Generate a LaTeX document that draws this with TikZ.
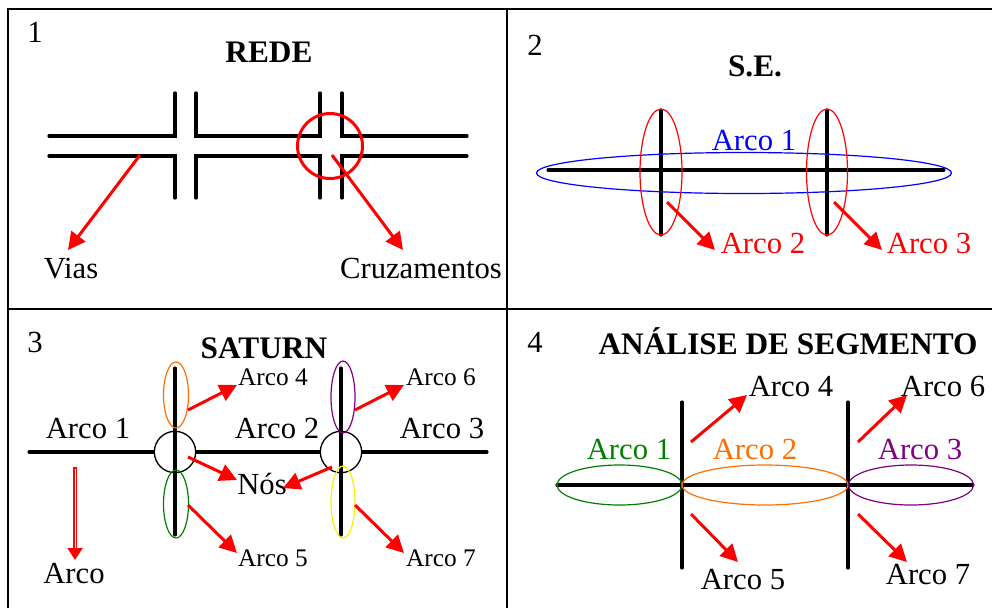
\documentclass[tikz,border=0pt]{standalone}
\usepackage{fontspec}
\setmainfont{Liberation Serif}
\usetikzlibrary{arrows.meta}
\definecolor{orng}{RGB}{255,110,0}
\definecolor{purp}{RGB}{128,0,128}
\definecolor{grn}{RGB}{0,128,0}
\definecolor{ylw}{RGB}{255,240,0}
\begin{document}
\begin{tikzpicture}[x=0.75pt,y=-0.75pt,
  lbl/.style={font=\fontsize{23}{27}\selectfont, anchor=base, inner sep=0pt},
  sml/.style={font=\fontsize{19}{23}\selectfont, anchor=base, inner sep=0pt},
  ttl/.style={font=\fontsize{23.5}{27}\selectfont\bfseries, anchor=base, inner sep=0pt},
  frame/.style={line width=1.5pt},
  road/.style={line width=2.5pt, line cap=round},
  bar/.style={line width=2.3pt, line cap=round},
  thin/.style={line width=0.9pt},
  ptr/.style={red, line width=2.25pt, -{Triangle[length=13pt,width=13pt]}},
  nodecirc/.style={circle, draw=black, fill=white, line width=1pt, minimum size=31pt, inner sep=0pt}
]
\useasboundingbox (0,0) rectangle (992,608);
% frame
\draw[frame] (8,608) -- (8,9) -- (992,9);
\draw[frame] (507,9) -- (507,608);
\draw[frame] (8,309) -- (992,309);

% ---------- Panel 1 ----------
\node[lbl] (n1) at (35,42) {1};
\node[ttl] (t1) at (269,62) {REDE};
\draw[road] (49,136) -- (175,136) -- (175,93);
\draw[road] (49,156) -- (175,156) -- (175,198);
\draw[road] (196,93) -- (196,136) -- (320,136) -- (320,93);
\draw[road] (196,198) -- (196,156) -- (320,156) -- (320,198);
\draw[road] (342,93) -- (342,136) -- (467,136);
\draw[road] (342,198) -- (342,156) -- (467,156);
\draw[red, line width=2.25pt] (330,146) circle[radius=32.5];
\node[lbl] (vias) at (71,278) {Vias};
\node[lbl] (cruz) at (421,278) {Cruzamentos};
\coordinate (v0) at (140,155);
\coordinate (v1) at (68,250);
\coordinate (c0) at (332,155);
\coordinate (c1) at (403,250);
\draw[ptr] (v0) -- (v1);
\draw[ptr] (c0) -- (c1);

% ---------- Panel 2 ----------
\node[lbl] (n2) at (535,55) {2};
\node[ttl] (t2) at (755,76) {S.E.};
\draw[bar] (548,170) -- (944,170);
\draw[bar] (661,110) -- (661,235);
\draw[bar] (827,110) -- (827,235);
\draw[blue, thin] (744,173) ellipse[x radius=207.5, y radius=20.5];
\draw[red, thin] (661,172) ellipse[x radius=21, y radius=63];
\draw[red, thin] (827,172) ellipse[x radius=20.5, y radius=63];
\node[lbl, text=blue] (p2a1) at (754,150) {Arco 1};
\node[lbl, text=red] (p2a2) at (763,253) {Arco 2};
\node[lbl, text=red] (p2a3) at (929,253) {Arco 3};
\coordinate (s20) at (667,202);
\coordinate (s21) at (715,250);
\coordinate (s30) at (834,202);
\coordinate (s31) at (882,250);
\draw[ptr] (s20) -- (s21);
\draw[ptr] (s30) -- (s31);

% ---------- Panel 3 ----------
\node[lbl] (n3) at (35,352) {3};
\node[ttl] (t3) at (264,358) {SATURN};
\draw[bar] (29,452) -- (487,452);
\node[nodecirc] (ca) at (175,452) {};
\node[nodecirc] (cb) at (341,452) {};
\draw[bar] (175,368) -- (175,535);
\draw[bar] (341,368) -- (341,535);
\draw[orng, thin] (176,395) ellipse[x radius=12.5, y radius=33];
\draw[purp, thin] (343,397) ellipse[x radius=12, y radius=36];
\draw[grn, thin] (176,504) ellipse[x radius=12.5, y radius=34];
\draw[ylw, thin] (343,502) ellipse[x radius=12, y radius=36];
\node[lbl] (p3a1) at (88,438) {Arco 1};
\node[lbl] (p3a2) at (277,438) {Arco 2};
\node[lbl] (p3a3) at (442,438) {Arco 3};
\node[sml] (p3a4) at (273,385) {Arco 4};
\node[sml] (p3a6) at (441,385) {Arco 6};
\node[sml] (p3a5) at (273,566) {Arco 5};
\node[sml] (p3a7) at (441,566) {Arco 7};
\node[lbl] (nos) at (262,494) {Nós};
\node[lbl] (arco) at (74,583) {Arco};
\coordinate (q40) at (188,410);
\coordinate (q41) at (237,385);
\coordinate (q60) at (355,410);
\coordinate (q61) at (404,385);
\coordinate (qn0) at (188,457);
\coordinate (qn1) at (237,480);
\coordinate (qm0) at (332,467);
\coordinate (qm1) at (283,488);
\coordinate (q50) at (188,505);
\coordinate (q51) at (237,553);
\coordinate (q70) at (355,505);
\coordinate (q71) at (404,553);
\draw[ptr] (q40) -- (q41);
\draw[ptr] (q60) -- (q61);
\draw[ptr] (qn0) -- (qn1);
\draw[ptr] (qm0) -- (qm1);
\draw[ptr] (q50) -- (q51);
\draw[ptr] (q70) -- (q71);
\coordinate (d0) at (75,467);
\coordinate (d1) at (75,560);
\draw[red, line width=3.2pt, -{Triangle[length=9pt,width=11pt]}] (d0) -- (d1);
\draw[white, line width=0.6pt] (75,469) -- (75,548);

% ---------- Panel 4 ----------
\node[lbl] (n4) at (535,352) {4};
\node[ttl] (t4) at (788,354) {ANÁLISE DE SEGMENTO};
\draw[bar] (557,485) -- (973,485);
\draw[bar] (682,402) -- (682,568);
\draw[bar] (848,402) -- (848,568);
\draw[grn, thin] (619.5,485) ellipse[x radius=62.5, y radius=20];
\draw[orng, thin] (765,485) ellipse[x radius=83, y radius=20];
\draw[purp, thin] (911,485) ellipse[x radius=62.5, y radius=20];
\node[lbl, text=grn] (p4a1) at (629,459) {Arco 1};
\node[lbl, text=orng] (p4a2) at (755,459) {Arco 2};
\node[lbl, text=purp] (p4a3) at (920,459) {Arco 3};
\node[lbl] (p4a4) at (791,396) {Arco 4};
\node[lbl] (p4a6) at (943,396) {Arco 6};
\node[lbl] (p4a5) at (743,589) {Arco 5};
\node[lbl] (p4a7) at (928,584) {Arco 7};
\coordinate (r40) at (691,442);
\coordinate (r41) at (747,395);
\coordinate (r60) at (858,442);
\coordinate (r61) at (907,395);
\coordinate (r50) at (691,514);
\coordinate (r51) at (738,562);
\coordinate (r70) at (858,514);
\coordinate (r71) at (907,562);
\draw[ptr] (r40) -- (r41);
\draw[ptr] (r60) -- (r61);
\draw[ptr] (r50) -- (r51);
\draw[ptr] (r70) -- (r71);
\end{tikzpicture}
\end{document}
